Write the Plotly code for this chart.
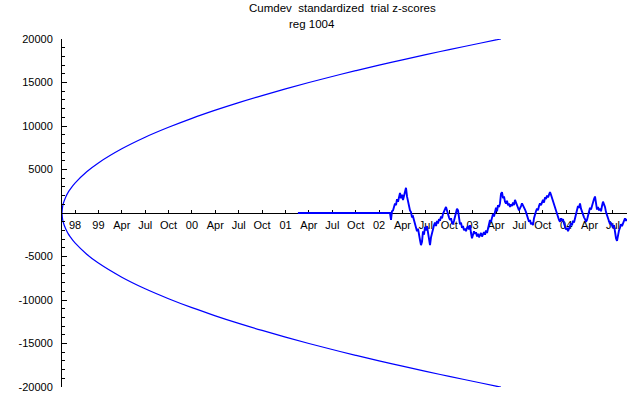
import plotly.graph_objects as go

# ---- data (x in quarters; 0 = the "98" tick) ----
quarter_labels = ["98", "99", "Apr", "Jul", "Oct", "00", "Apr", "Jul", "Oct", "01",
                  "Apr", "Jul", "Oct", "02", "Apr", "Jul", "Oct", "03", "Apr", "Jul",
                  "Oct", "04", "Apr", "Jul"]
quarter_ticks = list(range(len(quarter_labels)))
y_tick_vals = [-20000, -15000, -10000, -5000, 5000, 10000, 15000, 20000]
y_tick_labels = ["-20000", "-15000", "-10000", "-5000", "5000", "10000", "15000", "20000"]

# envelope (upper branch)
env_q = [-0.556, -0.53, -0.5, -0.4, -0.3, -0.2, -0.1, 0, 0.5, 1, 2, 3, 4, 5, 6, 7, 8,
         9, 10, 11, 12, 13, 14, 15, 16, 17, 18, 18.21]
env_vals = [0, 740, 1090, 1820, 2340, 2750, 3120, 3440, 4740, 5760, 7380, 8710, 9850,
            10880, 11820, 12690, 13500, 14270, 15000, 15690, 16360, 17000, 17610,
            18210, 18780, 19340, 19890, 20000]

# cumulative deviation: zero from flat_start_q, then a walk beginning at walk_start_q
flat_start_q = 9.53
walk_start_q = 13.51
walk_step_q = 1 / 23.39
walk_values = [
    -800, 200, 300, 700, 1100, 900, 1600, 1300, 2000, 2300,
    1700, 2100, 1500, 2000, 2400, 2900, 1900, 1200, 700, 300,
    100, -500, -400, -900, -1300, -1700, -2100, -1800, -2700, -3100,
    -3700, -3300, -2100, -2500, -1600, -2000, -1500, -2400, -3200, -3700,
    -2800, -2200, -1900, -1400, -1100, -1500, -900, -1200, -700, -900,
    -400, -600, -100, 200, 400, 700, 300, -200, -500, -800,
    -600, -1100, -1300, -900, -300, 200, 500, 300, -600, -1300,
    -1100, -1700, -1500, -2000, -1800, -2100, -1700, -1500, -1900, -1400,
    -2300, -2900, -2500, -2100, -2400, -2200, -2700, -2400, -2800, -2500,
    -2300, -2700, -2400, -2200, -2500, -2000, -2300, -1900, -1300, -800,
    -1000, -400, -100, -400, 300, 600, 200, 900, 700, 1100,
    2200, 2400, 1700, 1900, 1300, 1100, 1400, 900, 1100, 700,
    1000, 800, 1200, 900, 1500, 1100, 800, 600, 300, 500,
    800, 1100, 900, 600, 400, 100, -300, -600, -1000, -800,
    -1300, -1100, -1400, -600, -100, 200, 500, 300, 800, 1100,
    900, 1300, 1500, 1200, 1800, 1600, 2000, 1800, 2200, 2400,
    2100, 1700, 1300, 900, 600, 200, -100, -500, -800, -1000,
    -600, -900, -700, -1200, -1600, -1900, -1700, -2100, -1800, -1500,
    -1200, -1400, -900, -1100, -600, -200, 400, 800, 600, 1100,
    500, 100, -200, -500, -700, -1000, -800, -200, 200, 600,
    400, 900, 1300, 1600, 1900, 800, 400, 700, 300, 500,
    200, 800, 1300, 1000, 700, 100, -300, -700, -1000, -1300,
    -1100, -1500, -1700, -1400, -2300, -2900, -3200, -2400, -2000, -1700,
    -1300, -1500, -1100, -800, -600, -900, -700,
]

walk_x = [walk_start_q + i * walk_step_q for i in range(len(walk_values))]
series_x = [flat_start_q, walk_start_q - walk_step_q] + walk_x
series_y = [0, 0] + walk_values

BLUE = "#0000FF"
FONT = "Liberation Sans, Arial, sans-serif"

fig = go.Figure()
fig.add_trace(go.Scatter(x=env_q, y=env_vals, mode="lines", line_shape="spline",
                         line=dict(color=BLUE, width=1.2), hoverinfo="skip"))
fig.add_trace(go.Scatter(x=env_q, y=[-v for v in env_vals], mode="lines", line_shape="spline",
                         line=dict(color=BLUE, width=1.2), hoverinfo="skip"))
fig.add_trace(go.Scatter(x=series_x, y=series_y, mode="lines",
                         line=dict(color=BLUE, width=1.9), hoverinfo="skip"))

fig.update_layout(
    width=640, height=395,
    margin=dict(l=62, r=13, t=39, b=8, autoexpand=False),
    paper_bgcolor="white", plot_bgcolor="white",
    showlegend=False,
    font=dict(family=FONT, size=11, color="black"),
    xaxis=dict(
        range=[-0.556, 23.6], tickvals=quarter_ticks, ticktext=quarter_labels,
        showgrid=False, zeroline=False, showline=True, linecolor="black", linewidth=1,
        ticks="inside", ticklen=3, tickwidth=1, tickcolor="black",
        anchor="free", position=0.5, side="bottom", layer="below traces",
        tickfont=dict(family=FONT, size=11, color="black"),
        ticklabelstandoff=2, automargin=False,
    ),
    yaxis=dict(
        range=[-20000, 20000], tickvals=y_tick_vals, ticktext=y_tick_labels,
        showgrid=False, zeroline=False, showline=True, linecolor="black", linewidth=1,
        ticks="inside", ticklen=5, tickwidth=1, tickcolor="black",
        minor=dict(ticks="inside", dtick=1000, tick0=0, ticklen=3, tickwidth=1,
                   tickcolor="black", showgrid=False),
        tickfont=dict(family=FONT, size=11, color="black"),
        ticklabelstandoff=6, automargin=False,
    ),
    annotations=[
        dict(text="Cumdev  standardized  trial z-scores", xref="paper", yref="paper",
             x=0.497, y=1.089, xanchor="center", yanchor="middle", showarrow=False,
             font=dict(family=FONT, size=11.5, color="black")),
        dict(text="reg 1004", xref="paper", yref="paper",
             x=0.4416, y=1.043, xanchor="center", yanchor="middle", showarrow=False,
             font=dict(family=FONT, size=11.5, color="black")),
    ],
)

# remove the browser's default 8px page margin so the figure sits at the window origin
fig.write_html("out.html", config={"displayModeBar": False, "staticPlot": True},
               post_script="document.body.style.margin='0';")
